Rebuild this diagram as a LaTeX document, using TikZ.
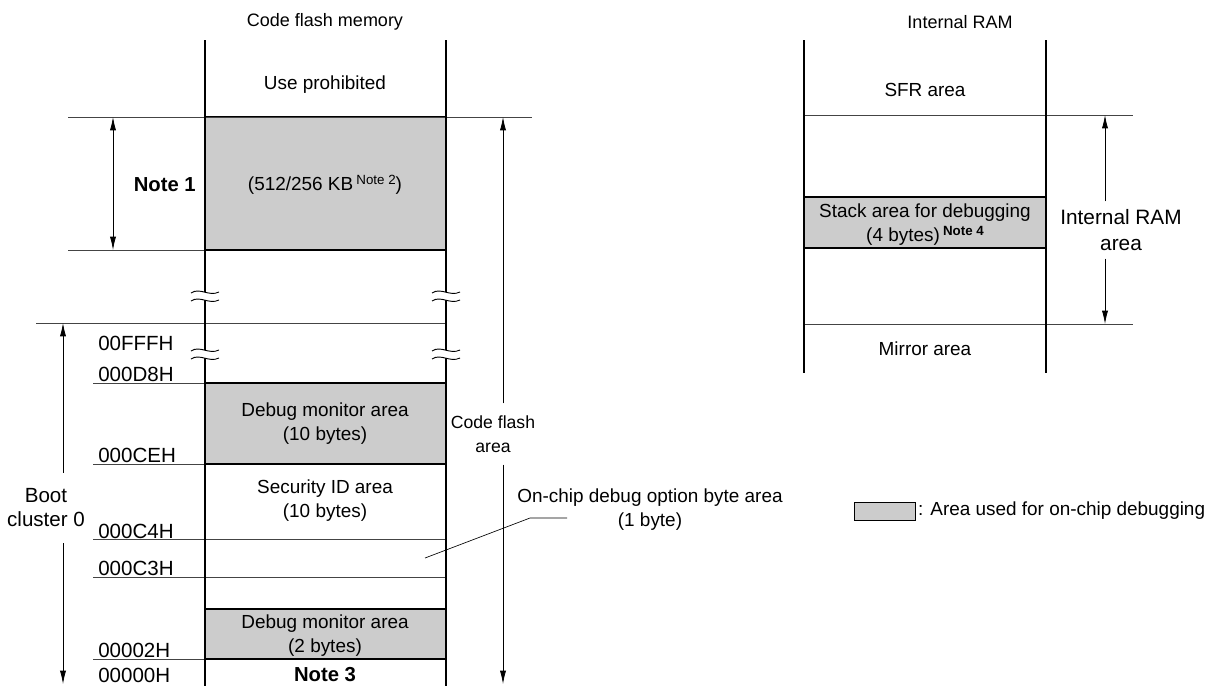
\documentclass[tikz,border=0pt]{standalone}
\usepackage{fontspec}
\setmainfont{Liberation Sans}
\usetikzlibrary{arrows.meta,positioning}
\definecolor{dbgfill}{HTML}{CCCCCC}
\definecolor{rulegray}{HTML}{444444}
% wavy break across a column line: x, y
\newcommand{\brkmark}[2]{%
  \fill[white] (#1-14,#2-3) .. controls (#1-5,#2-9) and (#1+4,#2+1) .. (#1+14,#2-4)
    -- (#1+14,#2+4) .. controls (#1+4,#2+9) and (#1-5,#2-1) .. (#1-14,#2+5) -- cycle;
  \draw[line width=0.7pt] (#1-14,#2-3) .. controls (#1-5,#2-9) and (#1+4,#2+1) .. (#1+14,#2-4);
  \draw[line width=0.7pt] (#1-14,#2+5) .. controls (#1-5,#2-1) and (#1+4,#2+9) .. (#1+14,#2+4);}

\begin{document}
\begin{tikzpicture}[x=0.75pt, y=-0.75pt,
  font=\fontsize{14.2}{18}\selectfont,
  lbl/.style={inner sep=0pt, align=center},
  ttl/.style={lbl, font=\fontsize{13.5}{16}\selectfont},
  addr/.style={inner sep=0pt, anchor=west, font=\fontsize{15.4}{18}\selectfont},
  note/.style={inner sep=0pt, font=\fontsize{15.2}{18}\selectfont\bfseries},
  col/.style={line width=1.8pt},
  rule/.style={line width=0.75pt, rulegray},
  dbg/.style={fill=dbgfill, draw, line width=1pt},
  arr/.style={-{Latex[length=3.5mm,width=1.6mm]}, line width=0.55pt},
  dimarr/.style={{Latex[length=3.5mm,width=1.6mm]}-{Latex[length=3.5mm,width=1.6mm]}, line width=0.55pt}]

  \useasboundingbox (0,0) rectangle (1210,686);

  % code flash memory
  \node[ttl] (cftitle) at (325,22) {Code flash memory};
  \draw[dbg] (205,117) rectangle (446,250);
  \draw[dbg] (205,383) rectangle (446,464);
  \draw[dbg] (205,609) rectangle (446,659);
  \draw[rule] (68,117) -- (532,117);
  \draw[rule] (68,250) -- (205,250);
  \draw[rule] (36,323) -- (446,323);
  \draw[rule] (93,383) -- (205,383);
  \draw[rule] (93,464) -- (205,464);
  \draw[rule] (93,539) -- (446,539);
  \draw[rule] (93,577) -- (446,577);
  \draw[rule] (93,659) -- (205,659);
  \draw[col] (205,40) -- (205,686);
  \draw[col] (446,40) -- (446,686);
  \brkmark{205}{296}
  \brkmark{446}{296}
  \brkmark{205}{354}
  \brkmark{446}{354}

  \node[lbl] (prohib) at (325,85) {Use prohibited};
  \node[lbl] (flashsz) at (325,185) {(512/256 KB\,\raisebox{0.6ex}{\fontsize{10}{10}\selectfont Note 2})};
  \node[lbl] (dbgmon) at (325,424) {Debug monitor area\\(10 bytes)};
  \node[lbl] (secid) at (325,501) {Security ID area\\(10 bytes)};
  \node[lbl] (dbgmon2) at (325,636) {Debug monitor area\\(2 bytes)};
  \node[note] (note3) at (325,675) {Note 3};
  \node[note, anchor=east] (note1) at (196,185) {Note 1};

  % addresses
  \node[addr] (a00fff) at (98,343) {00FFFH};
  \node[addr] (a000d8) at (98,374) {000D8H};
  \node[addr] (a000ce) at (98,455) {000CEH};
  \node[addr] (a000c4) at (98,531) {000C4H};
  \node[addr] (a000c3) at (98,568) {000C3H};
  \node[addr] (a00002) at (98,650) {00002H};
  \node[addr] (a00000) at (98,675) {00000H};

  % dimension arrows
  \coordinate (n1top) at (113,117);
  \coordinate (n1bot) at (113,250);
  \draw[dimarr] (n1top) -- (n1bot);

  \node[lbl, inner sep=12pt, font=\fontsize{15.4}{18}\selectfont] (boot) at (46,508) {Boot\\cluster 0};
  \coordinate (boottop) at (63,323);
  \coordinate (bootbot) at (63,684);
  \draw[arr] (boot.north -| boottop) -- (boottop);
  \draw[arr] (boot.south -| bootbot) -- (bootbot);

  \node[lbl, inner sep=9pt, font=\fontsize{13.2}{18}\selectfont] (cfarea) at (493,434) {Code flash\\area};
  \coordinate (cftop) at (503,117);
  \coordinate (cfbot) at (503,684);
  \draw[arr] (cfarea.north -| cftop) -- (cftop);
  \draw[arr] (cfarea.south -| cfbot) -- (cfbot);

  % option byte leader
  \node[lbl] (optbyte) at (650,510) {On-chip debug option byte area\\(1 byte)};
  \coordinate (optpt) at (425,558);
  \coordinate (optknee) at (530,518);
  \coordinate (optend) at (567,518);
  \draw[line width=0.5pt] (optpt) -- (optknee) -- (optend);

  % internal RAM
  \node[ttl] (ramtitle) at (960,22) {Internal RAM};
  \draw[dbg] (804,197) rectangle (1046,248);
  \draw[rule] (804,115) -- (1133,115);
  \draw[rule] (804,324) -- (1133,324);
  \draw[col] (804,40) -- (804,373);
  \draw[col] (1046,40) -- (1046,373);
  \node[lbl] (sfr) at (925,90) {SFR area};
  \node[lbl] (stack) at (925,225) {Stack area for debugging\\(4 bytes)\,\raisebox{0.6ex}{\fontsize{10}{10}\selectfont\bfseries Note 4}};
  \node[lbl] (mirror) at (925,349) {Mirror area};

  \node[lbl, inner sep=6pt, font=\fontsize{15.6}{19}\selectfont] (ramarea) at (1121,230) {Internal RAM\\area};
  \coordinate (ramtop) at (1105,115);
  \coordinate (rambot) at (1105,324);
  \draw[arr] (ramarea.north -| ramtop) -- (ramtop);
  \draw[arr] (ramarea.south -| rambot) -- (rambot);

  % legend
  \node[draw, fill=dbgfill, line width=0.5pt, minimum width=61*0.75pt, minimum height=18*0.75pt, inner sep=0pt] (legbox) at (885,511) {};
  \node[inner sep=0pt, right=1.5pt of legbox] (legtxt) {: Area used for on-chip debugging};
\end{tikzpicture}
\end{document}
